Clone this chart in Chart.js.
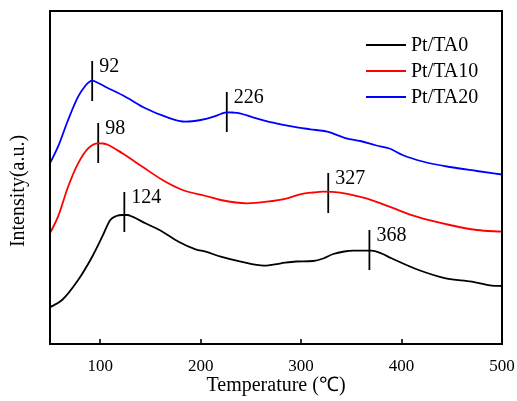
<!DOCTYPE html>
<html>
<head>
<meta charset="utf-8">
<script src="https://cdn.jsdelivr.net/npm/chart.js@4.4.1/dist/chart.umd.min.js"></script>
<style>
  html, body { margin: 0; padding: 0; background: #fff; }
  #wrap { width: 517px; height: 401px; position: relative; }
</style>
</head>
<body>
<div id="wrap"><canvas id="c" width="517" height="401"></canvas></div>
<script>
// TPR profiles: temperature (°C) and intensity (a.u., curves offset vertically)
const tempTA0  = [50, 62, 78, 92, 102, 110, 116, 122, 127, 132, 145, 162, 178, 195, 205, 220, 240, 263, 280, 295, 312, 322, 332, 343, 352, 370, 380, 390, 417, 444, 470, 490, 500];
const sigTA0   = [36.7, 44, 64, 87.3, 107.3, 124, 128, 129, 129, 127.3, 120.7, 112.3, 102.3, 94.7, 92.3, 87.3, 82.3, 78.3, 80.7, 82.5, 83, 85.5, 90, 92.5, 93.3, 93.3, 90.5, 85.7, 74, 65.7, 62.3, 58.3, 58];

const tempTA10 = [50, 58, 68, 78, 88, 98, 103, 108, 122, 142, 162, 182, 205, 220, 246, 266, 286, 299, 312, 322, 339, 358, 365, 388, 415, 448, 475, 500];
const sigTA10  = [110.7, 127.3, 157.3, 180.7, 195.7, 200.7, 200.5, 199, 190.7, 177.3, 164, 154, 148, 144, 140.7, 142.3, 145.7, 149.7, 151.5, 152.3, 151.3, 147.3, 145.7, 137.3, 127.3, 119, 114, 112.3];

const tempTA20 = [50, 58, 68, 78, 85, 89, 92, 97, 105, 125, 145, 165, 185, 200, 213, 220, 226, 232, 239, 252, 272, 292, 309, 326, 345, 359, 375, 388, 401, 421, 448, 475, 500];
const sigTA20  = [180.7, 197.3, 224, 247.3, 258, 262, 263.3, 261.5, 257.3, 247.3, 235.7, 227.3, 222.3, 224, 227.3, 230, 231.7, 231.5, 230.7, 226.7, 221.3, 217.3, 214.7, 212.3, 205.7, 203, 198.5, 195.5, 189, 182.5, 177, 173, 169.5];

const seriesNames = ['Pt/TA0', 'Pt/TA10', 'Pt/TA20'];
const seriesColors = ['#000000', '#ff0000', '#0000ff'];

// Peak positions (°C) and the intensity of the curve at each peak
const peakTemps  = [92, 226, 98, 327, 124, 368];
const peakLevels = [263, 232, 201, 151, 132, 94];

const xTicks = [100, 200, 300, 400, 500];

const FONT = '"Liberation Serif", "Times New Roman", serif';

const toPoints = (xs, ys) => xs.map((x, i) => ({ x, y: ys[i] }));

const curveSets = [
  [tempTA0, sigTA0], [tempTA10, sigTA10], [tempTA20, sigTA20]
].map(([xs, ys], i) => ({
  label: seriesNames[i],
  data: toPoints(xs, ys),
  borderColor: seriesColors[i],
  borderWidth: 1.8,
  pointRadius: 0,
  cubicInterpolationMode: 'monotone',
  fill: false
}));

// Short vertical bars marking each peak, half-length in intensity units
const MARK_HALF = 20;
const markerSets = peakTemps.map((t, i) => ({
  label: 'peak-' + t,
  isMarker: true,
  peakText: String(t),
  data: [{ x: t, y: peakLevels[i] - MARK_HALF }, { x: t, y: peakLevels[i] + MARK_HALF }],
  borderColor: '#000',
  borderWidth: 1.8,
  pointRadius: 0,
  tension: 0,
  fill: false
}));

const framePlugin = {
  id: 'frame',
  afterDatasetsDraw(chart) {
    const { ctx, chartArea: a, scales } = chart;
    ctx.save();
    // peak labels beside the top of each marker
    ctx.fillStyle = '#000';
    ctx.font = '20px ' + FONT;
    ctx.textAlign = 'left';
    ctx.textBaseline = 'middle';
    chart.data.datasets.forEach(ds => {
      if (!ds.isMarker) return;
      const top = ds.data[1];
      const px = scales.x.getPixelForValue(top.x);
      const py = scales.y.getPixelForValue(top.y);
      ctx.fillText(ds.peakText, px + 7, py + 6);
    });
    // inward ticks on the x axis
    ctx.strokeStyle = '#000';
    ctx.lineWidth = 1.6;
    scales.x.ticks.forEach(t => {
      const px = Math.round(scales.x.getPixelForValue(t.value));
      ctx.beginPath();
      ctx.moveTo(px, a.bottom);
      ctx.lineTo(px, a.bottom - 5);
      ctx.stroke();
    });
    // plot frame
    ctx.lineWidth = 2;
    ctx.strokeRect(a.left, a.top, a.right - a.left, a.bottom - a.top);
    // legend
    const lx0 = 366, lx1 = 406, ly0 = 45, step = 26;
    ctx.font = '20px ' + FONT;
    chart.data.datasets.filter(d => !d.isMarker).forEach((ds, i) => {
      const y = ly0 + i * step;
      ctx.strokeStyle = ds.borderColor;
      ctx.lineWidth = 1.8;
      ctx.beginPath();
      ctx.moveTo(lx0, y);
      ctx.lineTo(lx1, y);
      ctx.stroke();
      ctx.fillStyle = '#000';
      ctx.fillText(ds.label, lx1 + 5, y + 1);
    });
    // vertical axis title
    ctx.translate(19, 191);
    ctx.rotate(-Math.PI / 2);
    ctx.textAlign = 'center';
    ctx.fillText('Intensity(a.u.)', 0, 0);
    ctx.restore();
  }
};

new Chart(document.getElementById('c'), {
  type: 'line',
  data: { datasets: [...curveSets, ...markerSets] },
  options: {
    responsive: false,
    animation: false,
    events: [],
    layout: { padding: { left: 0, right: 15, top: 11, bottom: 0 } },
    plugins: {
      legend: { display: false },
      tooltip: { enabled: false }
    },
    scales: {
      x: {
        type: 'linear',
        min: 50,
        max: 500,
        afterBuildTicks(scale) { scale.ticks = xTicks.map(v => ({ value: v })); },
        afterFit(scale) { scale.height = 57; scale.paddingLeft = 0; scale.paddingRight = 0; },
        grid: { display: false, drawTicks: false },
        border: { display: false },
        ticks: {
          color: '#000',
          font: { family: FONT, size: 17 },
          padding: 12,
          maxRotation: 0
        },
        title: {
          display: true,
          text: 'Temperature (℃)',
          color: '#000',
          font: { family: FONT, size: 20 },
          padding: { top: 0, bottom: 3 }
        }
      },
      y: {
        type: 'linear',
        min: 0,
        max: 333,
        afterFit(scale) { scale.width = 50; },
        grid: { display: false, drawTicks: false },
        border: { display: false },
        ticks: { display: false }
      }
    }
  },
  plugins: [framePlugin]
});
</script>
</body>
</html>
